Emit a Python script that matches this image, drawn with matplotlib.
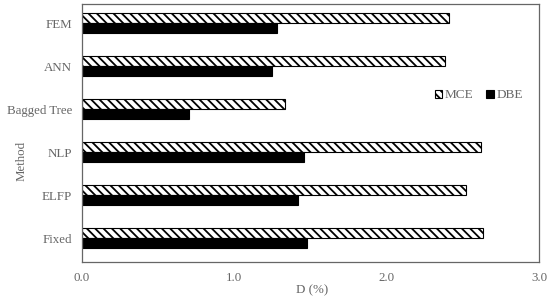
import matplotlib
matplotlib.use("Agg")
import matplotlib.pyplot as plt
import numpy as np

plt.rcParams["font.family"] = ["Liberation Serif", "DejaVu Serif"]
plt.rcParams["hatch.linewidth"] = 1.3

methods = ["Fixed", "ELFP", "NLP", "Bagged Tree", "ANN", "FEM"]
mce = [2.63, 2.52, 2.62, 1.33, 2.38, 2.41]
dbe = [1.48, 1.42, 1.46, 0.70, 1.25, 1.28]

grey = "#666666"
y = np.arange(len(methods))
h = 0.235

fig, ax = plt.subplots(figsize=(5.5, 2.97), dpi=100)
fig.subplots_adjust(left=0.149, right=0.98, top=0.987, bottom=0.118)

ax.barh(y + h / 2, mce, height=h, color="white", edgecolor="black",
        hatch="\\\\\\\\", linewidth=0.8, label="MCE")
ax.barh(y - h / 2, dbe, height=h, color="black", edgecolor="black",
        linewidth=0.8, label="DBE")

ax.set_xlim(0, 3.0)
ax.set_ylim(-0.55, 5.45)
ax.set_xticks([0, 1, 2, 3])
ax.set_xticklabels(["0.0", "1.0", "2.0", "3.0"])
ax.set_yticks(y)
ax.set_yticklabels(methods)
ax.tick_params(length=0, colors=grey, labelsize=9.3, pad=7)
ax.tick_params(axis="x", pad=7)
ax.set_xlabel("D (%)", color=grey, fontsize=9.3)
ax.set_ylabel("Method", color=grey, fontsize=9.3)
ax.xaxis.set_label_coords(0.503, -0.085)
ax.yaxis.set_label_coords(-0.118, 0.39)
for s in ax.spines.values():
    s.set_color(grey)
    s.set_linewidth(0.9)

ax.legend(loc="center", bbox_to_anchor=(0.868, 0.645), ncol=2, frameon=False,
          fontsize=9.5, handlelength=0.6, handleheight=0.6, handletextpad=0.15,
          columnspacing=1.0, labelcolor=grey)

fig.savefig("out.png")
